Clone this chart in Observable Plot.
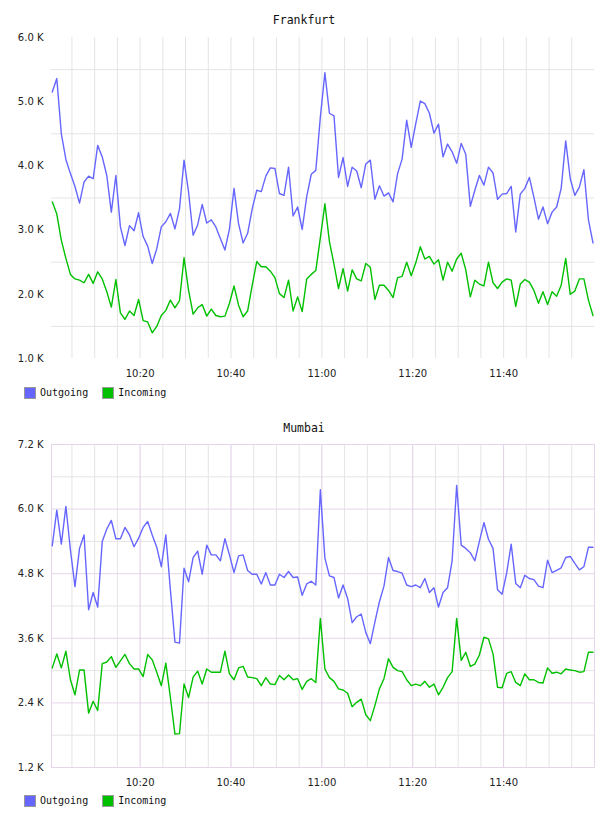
<!DOCTYPE html>
<html>
<head>
<meta charset="utf-8">
<script src="https://cdn.jsdelivr.net/npm/d3@7"></script>
<script src="https://cdn.jsdelivr.net/npm/@observablehq/plot@0.6"></script>
<style>
  html, body { margin: 0; padding: 0; background: #fff; }
  #page { position: relative; width: 608px; height: 816px; overflow: hidden; }
  .title { position: absolute; left: 0; width: 608px; text-align: center;
           font-family: "DejaVu Sans Mono", monospace; font-size: 11.5px; color: #111; line-height: 14px; }
  .legend { position: absolute; left: 24px; font-family: "DejaVu Sans Mono", monospace; font-size: 10px;
            color: #111; display: flex; align-items: center; line-height: 12px; }
  .legend .sw { width: 10px; height: 10px; border: 1px solid #999; margin-right: 4px; }
  .legend .item { display: flex; align-items: center; margin-right: 14px; }
  .chart { position: absolute; left: 0; }
  .chart svg text { letter-spacing: 0.6px; }
</style>
</head>
<body>
<div id="page"></div>
<script>
// ---- data (values in thousands) ----
const startTime = new Date(2024, 0, 1, 10, 0, 40);
const stepMinutes = 1;
const seriesNames = ["Outgoing", "Incoming"];
const seriesColors = ["#6666ff", "#00c000"];

const frankfurtOutgoing = [5.15,5.36,4.50,4.10,3.88,3.68,3.42,3.75,3.84,3.80,
  4.32,4.14,3.85,3.28,3.85,3.05,2.76,3.07,2.99,3.27,
  2.90,2.75,2.48,2.71,3.05,3.13,3.26,3.02,3.33,4.09,
  3.59,2.92,3.08,3.40,3.11,3.16,3.05,2.87,2.69,3.02,
  3.65,3.10,2.80,2.95,3.33,3.62,3.60,3.84,3.97,3.96,
  3.57,3.54,3.98,3.22,3.36,3.01,3.52,3.87,3.93,4.76,
  5.45,4.82,4.78,3.82,4.13,3.68,3.98,3.92,3.66,4.03,
  4.09,3.48,3.69,3.53,3.58,3.44,3.88,4.11,4.71,4.29,
  4.66,5.01,4.97,4.82,4.51,4.65,4.14,4.34,4.22,4.04,
  4.35,4.18,3.37,3.62,3.85,3.70,3.98,3.89,3.48,3.56,
  3.57,3.68,2.97,3.56,3.65,3.82,3.51,3.17,3.36,3.10,
  3.28,3.36,3.65,4.39,3.80,3.54,3.67,3.94,3.16,2.80];
const frankfurtIncoming = [3.44,3.25,2.84,2.56,2.31,2.24,2.22,2.18,2.31,2.17,
  2.35,2.24,2.04,1.80,2.23,1.71,1.61,1.74,1.67,1.92,
  1.59,1.57,1.40,1.50,1.67,1.75,1.91,1.79,1.90,2.57,
  2.06,1.69,1.79,1.84,1.66,1.77,1.67,1.65,1.66,1.86,
  2.13,1.83,1.65,1.74,2.14,2.51,2.43,2.43,2.36,2.26,
  2.01,1.95,2.22,1.74,1.96,1.73,2.24,2.31,2.37,2.88,
  3.41,2.82,2.47,2.09,2.40,2.05,2.38,2.24,2.21,2.48,
  2.42,1.92,2.14,2.14,2.06,1.95,2.26,2.28,2.50,2.29,
  2.49,2.74,2.55,2.59,2.47,2.54,2.22,2.50,2.36,2.55,
  2.64,2.38,1.96,2.22,2.16,2.13,2.50,2.18,2.09,2.19,
  2.24,2.22,1.81,2.16,2.23,2.19,2.06,1.86,2.04,1.84,
  2.04,1.97,2.14,2.56,2.00,2.05,2.24,2.24,1.91,1.67];
const mumbaiOutgoing = [5.32,5.98,5.35,6.05,5.24,4.56,5.27,5.52,4.13,4.45,
  4.18,5.40,5.63,5.79,5.45,5.45,5.66,5.52,5.30,5.46,
  5.66,5.77,5.52,5.29,4.93,5.52,4.50,3.53,3.51,4.90,
  4.65,5.10,5.22,4.79,5.33,5.15,5.15,5.04,5.45,5.15,
  4.82,5.13,5.15,4.86,4.79,4.79,4.61,4.82,4.59,4.59,
  4.79,4.73,4.84,4.73,4.74,4.40,4.61,4.66,4.59,6.36,
  5.09,4.76,4.73,4.35,4.59,4.34,3.89,4.00,4.05,3.71,
  3.50,3.90,4.28,4.57,5.10,4.86,4.84,4.81,4.59,4.56,
  4.59,4.54,4.71,4.45,4.54,4.18,4.45,4.54,5.04,6.44,
  5.33,5.27,5.19,5.04,5.40,5.75,5.44,5.27,4.50,4.42,
  4.81,5.35,4.62,4.54,4.77,4.71,4.69,4.57,4.54,5.05,
  4.82,4.86,4.91,5.10,5.12,4.99,4.87,4.93,5.29,5.29];
const mumbaiIncoming = [3.05,3.31,3.05,3.36,2.83,2.55,3.01,3.01,2.21,2.43,
  2.26,3.13,3.16,3.26,3.06,3.18,3.30,3.13,3.03,3.03,
  2.89,3.30,3.20,2.97,2.72,3.14,2.50,1.82,1.83,2.75,
  2.50,2.88,2.99,2.75,3.03,2.97,2.97,2.97,3.36,2.94,
  2.83,3.05,3.08,2.88,2.87,2.85,2.72,2.87,2.75,2.74,
  2.91,2.83,2.92,2.83,2.85,2.65,2.80,2.85,2.78,3.97,
  3.03,2.87,2.80,2.66,2.64,2.58,2.33,2.41,2.47,2.18,
  2.07,2.35,2.66,2.85,3.22,3.06,3.00,2.98,2.83,2.72,
  2.75,2.72,2.80,2.69,2.75,2.55,2.69,2.87,2.98,3.97,
  3.19,3.34,3.08,3.12,3.29,3.62,3.59,3.31,2.69,2.68,
  2.95,2.98,2.78,2.72,2.94,2.83,2.83,2.78,2.77,3.05,
  2.95,2.97,2.94,3.03,3.01,3.00,2.97,2.98,3.34,3.34];

const frankfurtYTicks = [1.0, 2.0, 3.0, 4.0, 5.0, 6.0];
const frankfurtYMinor = [1.5, 2.5, 3.5, 4.5, 5.5];
const mumbaiYTicks = [1.2, 2.4, 3.6, 4.8, 6.0, 7.2];
const mumbaiYMinor = [1.8, 3.0, 4.2, 5.4, 6.6];
const xTickLabels = ["10:20", "10:40", "11:00", "11:20", "11:40"];
const xGridTimes = ["10:05","10:10","10:15","10:20","10:25","10:30","10:35","10:40","10:45","10:50","10:55",
  "11:00","11:05","11:10","11:15","11:20","11:25","11:30","11:35","11:40","11:45","11:50","11:55"];
const xDomain = ["10:00:30", "12:00:00"];

// ---- helpers ----
const toDate = s => { const [h, m, sec] = s.split(":").map(Number); return new Date(2024, 0, 1, h, m, sec || 0); };
const xTicks = xTickLabels.map(toDate);
const xGrid = xGridTimes.map(toDate);
const xMajorSet = new Set(xTickLabels);
const xGridMinor = xGridTimes.filter(s => !xMajorSet.has(s)).map(toDate);

function makeRows(out, inc) {
  const rows = [];
  [out, inc].forEach((arr, k) => arr.forEach((v, i) => rows.push({
    t: new Date(+startTime + i * stepMinutes * 60000), v, s: seriesNames[k]
  })));
  return rows;
}

const page = document.getElementById("page");
const fmtY = d => d.toFixed(1) + " K";

function addTitle(text, top) {
  const d = document.createElement("div");
  d.className = "title"; d.style.top = top + "px"; d.textContent = text;
  page.appendChild(d);
}
function addLegend(top) {
  const d = document.createElement("div");
  d.className = "legend"; d.style.top = top + "px";
  seriesNames.forEach((n, i) => {
    const it = document.createElement("div"); it.className = "item";
    const sw = document.createElement("div"); sw.className = "sw"; sw.style.background = seriesColors[i];
    const tx = document.createElement("span"); tx.textContent = n;
    it.appendChild(sw); it.appendChild(tx); d.appendChild(it);
  });
  page.appendChild(d);
}

function chart(opts) {
  const rows = makeRows(opts.out, opts.inc);
  const marks = [];
  if (opts.mumbai) {
    marks.push(Plot.ruleY(opts.minor, {stroke: "#e4e4e4", strokeWidth: 1}));
    marks.push(Plot.ruleX(xGridMinor, {stroke: "#e4e4e4", strokeWidth: 1}));
    marks.push(Plot.ruleY(opts.ticks, {stroke: "#e6d4ea", strokeWidth: 1}));
    marks.push(Plot.ruleX(xTicks, {stroke: "#e0cce6", strokeWidth: 1}));
    marks.push(Plot.frame({stroke: "#e6d4ea", strokeWidth: 1}));
  } else {
    marks.push(Plot.ruleY(opts.minor, {stroke: "#e4e4e4", strokeWidth: 1}));
    marks.push(Plot.ruleX(xGrid, {stroke: "#e4e4e4", strokeWidth: 1}));
  }
  marks.push(Plot.axisY({ticks: opts.ticks, tickSize: 0, tickPadding: 8, tickFormat: fmtY, label: null, fill: "#222"}));
  marks.push(Plot.axisX({ticks: xTicks, tickSize: 0, tickPadding: 11, tickFormat: d3.timeFormat("%H:%M"), label: null, fill: "#222"}));
  marks.push(Plot.line(rows, {x: "t", y: "v", z: "s", stroke: "s", strokeWidth: 1.4}));
  return Plot.plot({
    width: 608, height: opts.height,
    marginLeft: 51, marginRight: 14, marginTop: 37, marginBottom: 27,
    style: {fontFamily: "DejaVu Sans, sans-serif", fontSize: "10px", background: "transparent"},
    x: {type: "time", domain: xDomain.map(toDate)},
    y: {domain: opts.domain},
    color: {domain: seriesNames, range: seriesColors},
    marks
  });
}

const c1 = chart({out: frankfurtOutgoing, inc: frankfurtIncoming, ticks: frankfurtYTicks, minor: frankfurtYMinor,
  domain: [1.0, 6.0], height: 385, mumbai: false});
c1.classList.add("chart"); c1.style.top = "0px";
page.appendChild(c1);
addTitle("Frankfurt", 13);
addLegend(387);

const c2 = chart({out: mumbaiOutgoing, inc: mumbaiIncoming, ticks: mumbaiYTicks, minor: mumbaiYMinor,
  domain: [1.2, 7.2], height: 387, mumbai: true});
c2.classList.add("chart"); c2.style.top = "407px";
page.appendChild(c2);
addTitle("Mumbai", 421);
addLegend(795);
</script>
</body>
</html>
